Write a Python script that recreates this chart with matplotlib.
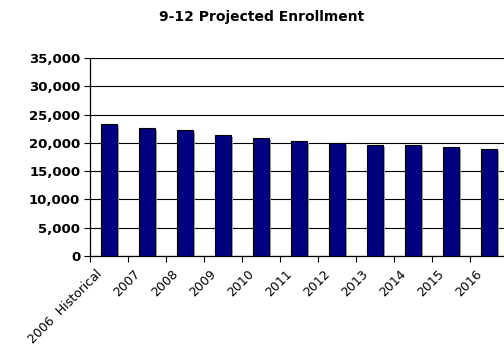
import matplotlib.pyplot as plt
import matplotlib.patheffects as pe
import matplotlib.transforms as mtrans
from matplotlib.ticker import FuncFormatter, MultipleLocator
import numpy as np

years = ['2006  Historical', '2007', '2008', '2009', '2010', '2011',
         '2012', '2013', '2014', '2015', '2016']
enrollment = [23300, 22700, 22200, 21400, 20800, 20400,
              19950, 19550, 19550, 19300, 19000]

fig = plt.figure(figsize=(5.04, 3.51), dpi=100)
ax = fig.add_axes([90 / 504, 1 - 256 / 351, 418 / 504, 198 / 351])

x = np.arange(len(years))
bars = ax.bar(x, enrollment, width=0.43, color='#000080', edgecolor='black',
              linewidth=0.8, zorder=3)
for b in bars:
    b.set_path_effects([pe.SimplePatchShadow(offset=(1.5, -1.5), shadow_rgbFace='#a0a0a0', alpha=1),
                        pe.Normal()])

ax.set_xlim(-0.5, len(years) - 0.5)
ax.set_ylim(0, 35000)
ax.yaxis.set_major_locator(MultipleLocator(5000))
ax.yaxis.set_major_formatter(FuncFormatter(lambda v, p: f'{int(v):,}'))
ax.grid(axis='y', color='black', linewidth=0.8, zorder=0)

for s in ['top', 'right']:
    ax.spines[s].set_visible(False)
ax.spines['left'].set_linewidth(0.9)
ax.spines['bottom'].set_linewidth(0.9)

ax.set_xticks(x)
ax.set_xticklabels(years, rotation=45, ha='right', va='top', rotation_mode='anchor', fontsize=9)
ax.tick_params(axis='x', length=0, pad=8)
shift = mtrans.ScaledTranslation(-10 / 72, 0, fig.dpi_scale_trans)
for t in ax.get_xticklabels():
    t.set_transform(t.get_transform() + shift)
ax.set_xticks(np.arange(-0.5, len(years), 1), minor=True)
ax.tick_params(axis='x', which='minor', length=4, width=0.8, direction='out')
ax.tick_params(axis='y', length=4, width=0.8, labelsize=9.5, pad=3)
for t in ax.get_yticklabels():
    t.set_fontweight('bold')

fig.suptitle('9-12 Projected Enrollment', fontsize=10, fontweight='bold', x=262 / 504, y=1 - 17 / 351, va='center')

plt.savefig('out.png', dpi=100)
